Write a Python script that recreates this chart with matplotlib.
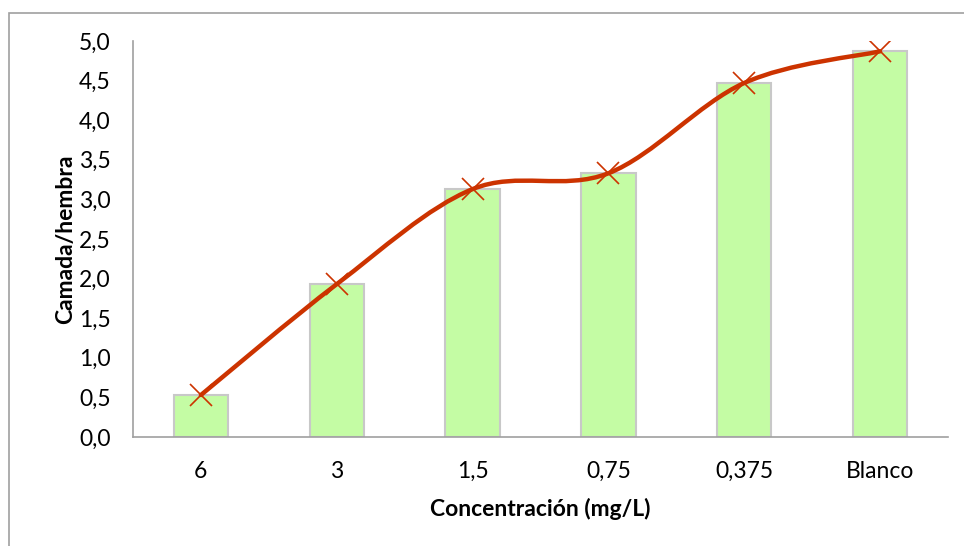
import matplotlib.pyplot as plt
import numpy as np
from matplotlib.path import Path
from matplotlib.patches import PathPatch, Rectangle

plt.rcParams['font.family'] = ['Lato', 'DejaVu Sans']

concentraciones = ['6', '3', '1,5', '0,75', '0,375', 'Blanco']
camada_hembra = [0.53, 1.93, 3.13, 3.33, 4.47, 4.87]
y_ticks = [0.0, 0.5, 1.0, 1.5, 2.0, 2.5, 3.0, 3.5, 4.0, 4.5, 5.0]


def smooth_path(xs, ys):
    # curva suavizada tipo Excel: Bezier cubica con tangentes de Catmull-Rom
    pts = np.column_stack([xs, ys]).astype(float)
    n = len(pts)
    verts = [pts[0]]
    codes = [Path.MOVETO]
    for i in range(n - 1):
        p0 = pts[max(i - 1, 0)]
        p1 = pts[i]
        p2 = pts[i + 1]
        p3 = pts[min(i + 2, n - 1)]
        c1 = p1 + (p2 - p0) / 6.0
        c2 = p2 - (p3 - p1) / 6.0
        verts += [c1, c2, p2]
        codes += [Path.CURVE4] * 3
    return Path(verts, codes)


fig = plt.figure(figsize=(9.64, 5.46), dpi=100)
ax = fig.add_axes([133 / 964, 1 - 437 / 546, (948 - 133) / 964, (437 - 41) / 546])

x = np.arange(len(concentraciones))
ax.bar(x, camada_hembra, width=0.4, color='#c4fca4', edgecolor='#c8c8c8',
       linewidth=1.5, zorder=2)

curve = PathPatch(smooth_path(x, camada_hembra), facecolor='none',
                  edgecolor='#cc3300', linewidth=3.2, capstyle='round', zorder=3)
ax.add_patch(curve)
ax.plot(x, camada_hembra, linestyle='none', marker='x', markersize=16,
        markeredgewidth=1.2, color='#cc3300', zorder=4)

ax.set_xlim(-0.5, len(concentraciones) - 0.5)
ax.set_ylim(0, 5.0)
ax.set_yticks(y_ticks)
ax.set_yticklabels([f'{v:.1f}'.replace('.', ',') for v in y_ticks])
ax.set_xticks(x)
ax.set_xticklabels(concentraciones)
ax.tick_params(axis='both', length=0, labelsize=16.5, colors='black')
ax.tick_params(axis='y', pad=16)
ax.tick_params(axis='x', pad=17)

for side in ['top', 'right']:
    ax.spines[side].set_visible(False)
for side in ['left', 'bottom']:
    ax.spines[side].set_color('#a0a0a0')
    ax.spines[side].set_linewidth(1.2)

ax.set_xlabel('Concentración (mg/L)', fontsize=16.5, fontweight='bold', labelpad=12)
ax.set_ylabel('Camada/hembra', fontsize=16.5, fontweight='bold', labelpad=2)

# marco del area del grafico
fig.patches.append(Rectangle((9 / 964, -0.1), 1.2, 1.1 - 13 / 546,
                             transform=fig.transFigure, fill=False,
                             edgecolor='#a0a0a0', linewidth=1.2))

fig.savefig('out.png', dpi=100)
